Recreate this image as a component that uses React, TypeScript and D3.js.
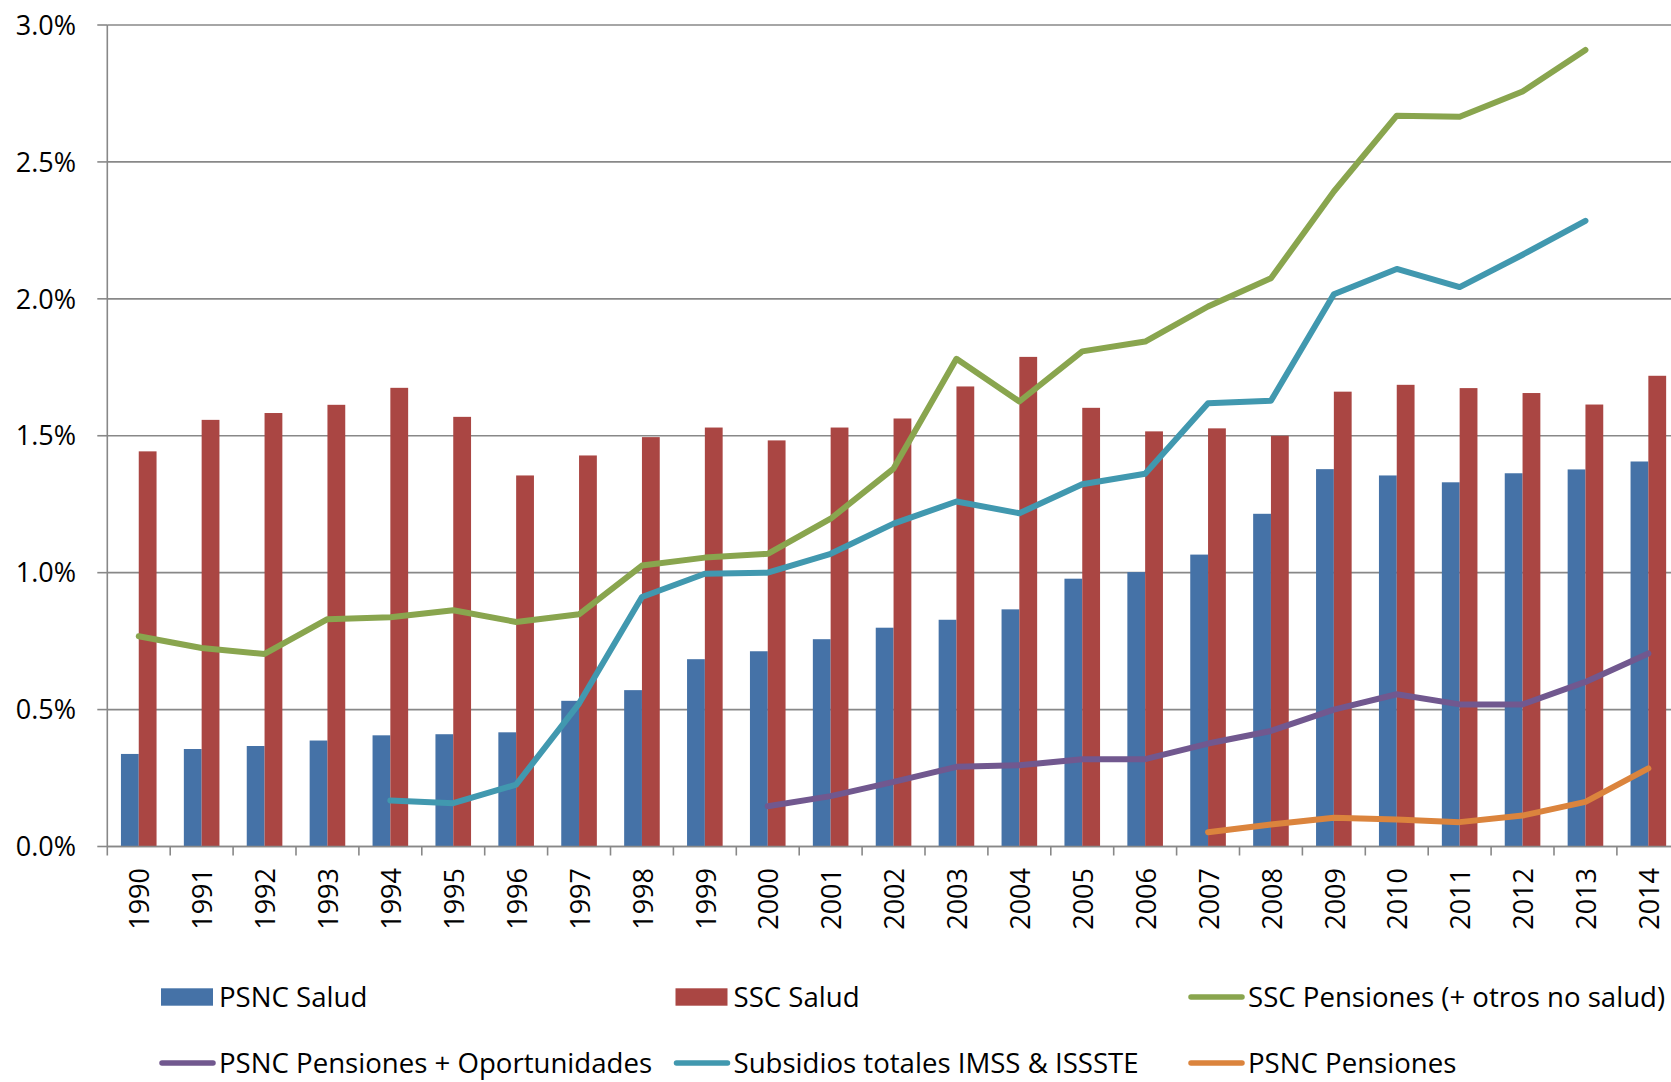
import React from "react";
import * as d3 from "d3";

const years = d3.range(1990, 2015).map(String);
const yTicks = [0, 0.5, 1.0, 1.5, 2.0, 2.5, 3.0];

const psncSalud = [0.338, 0.356, 0.367, 0.387, 0.406, 0.410, 0.417, 0.532, 0.571, 0.684, 0.713, 0.757, 0.799, 0.828, 0.866, 0.978, 1.002, 1.066, 1.215, 1.378, 1.355, 1.330, 1.363, 1.377, 1.406];
const sscSalud = [1.443, 1.558, 1.583, 1.613, 1.675, 1.569, 1.355, 1.428, 1.495, 1.530, 1.483, 1.530, 1.563, 1.680, 1.788, 1.602, 1.516, 1.527, 1.500, 1.661, 1.686, 1.674, 1.656, 1.614, 1.719];
const sscPensiones = [0.768, 0.725, 0.703, 0.830, 0.837, 0.863, 0.820, 0.848, 1.026, 1.055, 1.069, 1.197, 1.380, 1.781, 1.625, 1.808, 1.844, 1.972, 2.075, 2.392, 2.669, 2.665, 2.757, 2.909, null];
const psncPensOport = [null, null, null, null, null, null, null, null, null, null, 0.147, 0.184, 0.236, 0.291, 0.297, 0.319, 0.319, 0.376, 0.422, 0.500, 0.556, 0.519, 0.519, 0.601, 0.705];
const subsidios = [null, null, null, null, 0.168, 0.158, 0.226, 0.522, 0.911, 0.996, 1.000, 1.069, 1.179, 1.260, 1.217, 1.323, 1.361, 1.619, 1.628, 2.017, 2.109, 2.043, 2.161, 2.285, null];
const psncPensiones = [null, null, null, null, null, null, null, null, null, null, null, null, null, null, null, null, null, 0.052, 0.080, 0.105, 0.099, 0.089, 0.113, 0.163, 0.285];

const COLORS = {
  blue: "#4572A7",
  red: "#AA4643",
  green: "#89A54E",
  purple: "#71588F",
  teal: "#4198AF",
  orange: "#DB843D",
};

const lineSeries = [
  { name: "SSC Pensiones (+ otros no salud)", values: sscPensiones, color: COLORS.green },
  { name: "Subsidios totales IMSS & ISSSTE", values: subsidios, color: COLORS.teal },
  { name: "PSNC Pensiones + Oportunidades", values: psncPensOport, color: COLORS.purple },
  { name: "PSNC Pensiones", values: psncPensiones, color: COLORS.orange },
];

const legendItems = [
  { name: "PSNC Salud", color: COLORS.blue, kind: "bar" },
  { name: "SSC Salud", color: COLORS.red, kind: "bar" },
  { name: "SSC Pensiones (+ otros no salud)", color: COLORS.green, kind: "line" },
  { name: "PSNC Pensiones + Oportunidades", color: COLORS.purple, kind: "line" },
  { name: "Subsidios totales IMSS & ISSSTE", color: COLORS.teal, kind: "line" },
  { name: "PSNC Pensiones", color: COLORS.orange, kind: "line" },
];

const W = 1671;
const H = 1082;
const X0 = 107.3;
const BW = 62.9;
const GRID = "#888888";
const FONT = "'Open Sans', sans-serif";

export default function App() {
  const x = d3.scaleBand().domain(years).range([X0, X0 + BW * years.length]).padding(0);
  const y = d3.scaleLinear().domain([0, 3]).range([846.5, 25]);
  const barW = 17.8;
  const cx = (yr: string) => (x(yr) as number) + x.bandwidth() / 2;

  const lineGen = d3
    .line<number | null>()
    .defined((d) => d != null)
    .x((_, i) => cx(years[i]))
    .y((d) => y(d as number));

  const fmt = d3.format(".1%");

  return (
    <svg
      width={W}
      height={H}
      style={{ position: "fixed", left: 0, top: 0, background: "#fff" }}
      fontFamily={FONT}
    >
      <rect width={W} height={H} fill="#fff" />
      {yTicks.map((t) => (
        <g key={t}>
          <line x1={X0} x2={W} y1={y(t)} y2={y(t)} stroke={GRID} strokeWidth={1.6} />
          <line x1={X0 - 10} x2={X0} y1={y(t)} y2={y(t)} stroke={GRID} strokeWidth={1.6} />
          <text x={76} y={y(t)} dy="0.36em" textAnchor="end" fontSize={27} fill="#000">
            {fmt(t / 100)}
          </text>
        </g>
      ))}
      <line x1={X0} x2={X0} y1={y(3)} y2={y(0)} stroke={GRID} strokeWidth={1.6} />
      {years.map((yr) => (
        <line key={"t" + yr} x1={x(yr)} x2={x(yr)} y1={y(0)} y2={y(0) + 9} stroke={GRID} strokeWidth={1.6} />
      ))}
      {years.map((yr, i) => (
        <g key={"b" + yr}>
          <rect x={cx(yr) - barW} y={y(psncSalud[i])} width={barW} height={y(0) - y(psncSalud[i])} fill={COLORS.blue} />
          <rect x={cx(yr)} y={y(sscSalud[i])} width={barW} height={y(0) - y(sscSalud[i])} fill={COLORS.red} />
        </g>
      ))}
      <line x1={X0} x2={W} y1={y(0)} y2={y(0)} stroke={GRID} strokeWidth={1.6} />
      {lineSeries.map((s) => (
        <path
          key={s.name}
          d={lineGen(s.values) || ""}
          fill="none"
          stroke={s.color}
          strokeWidth={6}
          strokeLinejoin="round"
          strokeLinecap="round"
        />
      ))}
      {years.map((yr) => (
        <text
          key={"l" + yr}
          transform={`translate(${cx(yr) + 1},${868}) rotate(-90)`}
          textAnchor="end"
          dy="0.36em"
          fontSize={27}
          fill="#000"
        >
          {yr}
        </text>
      ))}
      {legendItems.map((it, i) => {
        const col = i % 3;
        const row = Math.floor(i / 3);
        const lx = 161 + col * 514.5;
        const ly = 997 + row * 66;
        return (
          <g key={it.name}>
            {it.kind === "bar" ? (
              <rect x={lx} y={ly - 8.7} width={52} height={17.4} fill={it.color} />
            ) : (
              <line x1={lx + 1} x2={lx + 52} y1={ly} y2={ly} stroke={it.color} strokeWidth={5.5} strokeLinecap="round" />
            )}
            <text x={lx + 58} y={ly} dy="0.36em" fontSize={27.6} fill="#000">
              {it.name}
            </text>
          </g>
        );
      })}
    </svg>
  );
}
